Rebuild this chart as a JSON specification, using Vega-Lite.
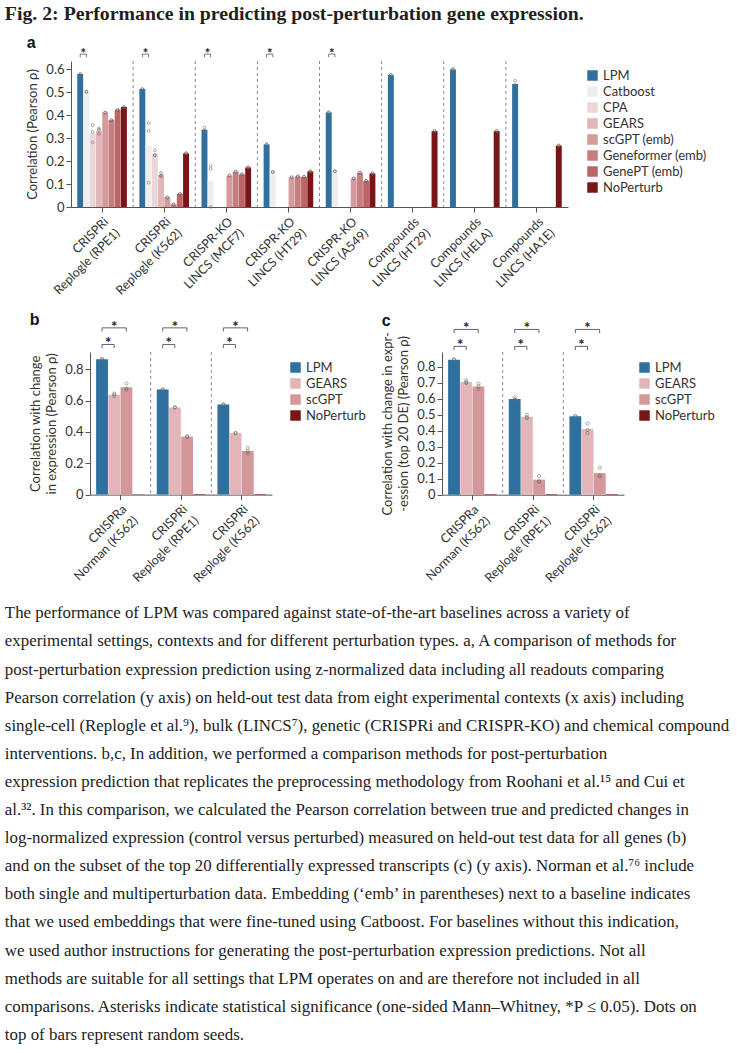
{
  "$schema": "https://vega.github.io/schema/vega-lite/v6.json",
  "background": "white",
  "padding": {"left": 4, "top": 4, "right": 4, "bottom": 4},
  "title": {"text": "Fig. 2: Performance in predicting post-perturbation gene expression.", "anchor": "start", "font": "Liberation Serif", "fontSize": 19.8, "fontWeight": "bold", "color": "#1f1f1f", "offset": 11},
  "config": {
    "font": "Lato",
    "view": {"stroke": null},
    "axis": {"domainColor": "#555", "tickColor": "#555", "labelColor": "#333", "titleColor": "#333", "labelFontSize": 13, "titleFontSize": 13, "titleFontWeight": "normal", "grid": false, "tickSize": 5, "labelFont": "Lato", "titleFont": "Lato", "titleLineHeight": 16},
    "legend": {"labelFontSize": 13, "labelFont": "Lato", "symbolType": "square", "symbolSize": 110, "symbolStrokeWidth": 0, "rowPadding": 2, "labelColor": "#333"}
  },
  "datasets": {
    "a_bars": [
      {"c": "CRISPRi|Replogle (RPE1)", "m": "LPM", "v": 0.578},
      {"c": "CRISPRi|Replogle (RPE1)", "m": "Catboost", "v": 0.501},
      {"c": "CRISPRi|Replogle (RPE1)", "m": "CPA", "v": 0.321},
      {"c": "CRISPRi|Replogle (RPE1)", "m": "GEARS", "v": 0.332},
      {"c": "CRISPRi|Replogle (RPE1)", "m": "scGPT (emb)", "v": 0.411},
      {"c": "CRISPRi|Replogle (RPE1)", "m": "Geneformer (emb)", "v": 0.378},
      {"c": "CRISPRi|Replogle (RPE1)", "m": "GenePT (emb)", "v": 0.423},
      {"c": "CRISPRi|Replogle (RPE1)", "m": "NoPerturb", "v": 0.435},
      {"c": "CRISPRi|Replogle (K562)", "m": "LPM", "v": 0.513},
      {"c": "CRISPRi|Replogle (K562)", "m": "Catboost", "v": 0.267},
      {"c": "CRISPRi|Replogle (K562)", "m": "CPA", "v": 0.232},
      {"c": "CRISPRi|Replogle (K562)", "m": "GEARS", "v": 0.14},
      {"c": "CRISPRi|Replogle (K562)", "m": "scGPT (emb)", "v": 0.042},
      {"c": "CRISPRi|Replogle (K562)", "m": "Geneformer (emb)", "v": 0.011},
      {"c": "CRISPRi|Replogle (K562)", "m": "GenePT (emb)", "v": 0.057},
      {"c": "CRISPRi|Replogle (K562)", "m": "NoPerturb", "v": 0.233},
      {"c": "CRISPR-KO|LINCS (MCF7)", "m": "LPM", "v": 0.336},
      {"c": "CRISPR-KO|LINCS (MCF7)", "m": "Catboost", "v": 0.114},
      {"c": "CRISPR-KO|LINCS (MCF7)", "m": "scGPT (emb)", "v": 0.136},
      {"c": "CRISPR-KO|LINCS (MCF7)", "m": "Geneformer (emb)", "v": 0.153},
      {"c": "CRISPR-KO|LINCS (MCF7)", "m": "GenePT (emb)", "v": 0.142},
      {"c": "CRISPR-KO|LINCS (MCF7)", "m": "NoPerturb", "v": 0.172},
      {"c": "CRISPR-KO|LINCS (HT29)", "m": "LPM", "v": 0.272},
      {"c": "CRISPR-KO|LINCS (HT29)", "m": "Catboost", "v": 0.152},
      {"c": "CRISPR-KO|LINCS (HT29)", "m": "scGPT (emb)", "v": 0.129},
      {"c": "CRISPR-KO|LINCS (HT29)", "m": "Geneformer (emb)", "v": 0.133},
      {"c": "CRISPR-KO|LINCS (HT29)", "m": "GenePT (emb)", "v": 0.131},
      {"c": "CRISPR-KO|LINCS (HT29)", "m": "NoPerturb", "v": 0.155},
      {"c": "CRISPR-KO|LINCS (A549)", "m": "LPM", "v": 0.411},
      {"c": "CRISPR-KO|LINCS (A549)", "m": "Catboost", "v": 0.155},
      {"c": "CRISPR-KO|LINCS (A549)", "m": "scGPT (emb)", "v": 0.124},
      {"c": "CRISPR-KO|LINCS (A549)", "m": "Geneformer (emb)", "v": 0.149},
      {"c": "CRISPR-KO|LINCS (A549)", "m": "GenePT (emb)", "v": 0.113},
      {"c": "CRISPR-KO|LINCS (A549)", "m": "NoPerturb", "v": 0.146},
      {"c": "Compounds|LINCS (HT29)", "m": "LPM", "v": 0.574},
      {"c": "Compounds|LINCS (HT29)", "m": "NoPerturb", "v": 0.33},
      {"c": "Compounds|LINCS (HELA)", "m": "LPM", "v": 0.598},
      {"c": "Compounds|LINCS (HELA)", "m": "NoPerturb", "v": 0.33},
      {"c": "Compounds|LINCS (HA1E)", "m": "LPM", "v": 0.535},
      {"c": "Compounds|LINCS (HA1E)", "m": "NoPerturb", "v": 0.267}
    ],
    "a_seeds": [
      {"c": "CRISPRi|Replogle (RPE1)", "m": "LPM", "v": 0.577},
      {"c": "CRISPRi|Replogle (RPE1)", "m": "LPM", "v": 0.579},
      {"c": "CRISPRi|Replogle (RPE1)", "m": "Catboost", "v": 0.501},
      {"c": "CRISPRi|Replogle (RPE1)", "m": "Catboost", "v": 0.502},
      {"c": "CRISPRi|Replogle (RPE1)", "m": "CPA", "v": 0.356},
      {"c": "CRISPRi|Replogle (RPE1)", "m": "CPA", "v": 0.327},
      {"c": "CRISPRi|Replogle (RPE1)", "m": "CPA", "v": 0.281},
      {"c": "CRISPRi|Replogle (RPE1)", "m": "GEARS", "v": 0.342},
      {"c": "CRISPRi|Replogle (RPE1)", "m": "GEARS", "v": 0.318},
      {"c": "CRISPRi|Replogle (RPE1)", "m": "GEARS", "v": 0.336},
      {"c": "CRISPRi|Replogle (RPE1)", "m": "scGPT (emb)", "v": 0.411},
      {"c": "CRISPRi|Replogle (RPE1)", "m": "scGPT (emb)", "v": 0.41},
      {"c": "CRISPRi|Replogle (RPE1)", "m": "Geneformer (emb)", "v": 0.378},
      {"c": "CRISPRi|Replogle (RPE1)", "m": "Geneformer (emb)", "v": 0.377},
      {"c": "CRISPRi|Replogle (RPE1)", "m": "GenePT (emb)", "v": 0.423},
      {"c": "CRISPRi|Replogle (RPE1)", "m": "GenePT (emb)", "v": 0.422},
      {"c": "CRISPRi|Replogle (RPE1)", "m": "NoPerturb", "v": 0.435},
      {"c": "CRISPRi|Replogle (RPE1)", "m": "NoPerturb", "v": 0.434},
      {"c": "CRISPRi|Replogle (K562)", "m": "LPM", "v": 0.513},
      {"c": "CRISPRi|Replogle (K562)", "m": "LPM", "v": 0.512},
      {"c": "CRISPRi|Replogle (K562)", "m": "Catboost", "v": 0.365},
      {"c": "CRISPRi|Replogle (K562)", "m": "Catboost", "v": 0.331},
      {"c": "CRISPRi|Replogle (K562)", "m": "Catboost", "v": 0.106},
      {"c": "CRISPRi|Replogle (K562)", "m": "CPA", "v": 0.247},
      {"c": "CRISPRi|Replogle (K562)", "m": "CPA", "v": 0.226},
      {"c": "CRISPRi|Replogle (K562)", "m": "CPA", "v": 0.224},
      {"c": "CRISPRi|Replogle (K562)", "m": "GEARS", "v": 0.148},
      {"c": "CRISPRi|Replogle (K562)", "m": "GEARS", "v": 0.134},
      {"c": "CRISPRi|Replogle (K562)", "m": "GEARS", "v": 0.137},
      {"c": "CRISPRi|Replogle (K562)", "m": "scGPT (emb)", "v": 0.042},
      {"c": "CRISPRi|Replogle (K562)", "m": "scGPT (emb)", "v": 0.041},
      {"c": "CRISPRi|Replogle (K562)", "m": "Geneformer (emb)", "v": 0.011},
      {"c": "CRISPRi|Replogle (K562)", "m": "Geneformer (emb)", "v": 0.012},
      {"c": "CRISPRi|Replogle (K562)", "m": "GenePT (emb)", "v": 0.057},
      {"c": "CRISPRi|Replogle (K562)", "m": "GenePT (emb)", "v": 0.056},
      {"c": "CRISPRi|Replogle (K562)", "m": "NoPerturb", "v": 0.233},
      {"c": "CRISPRi|Replogle (K562)", "m": "NoPerturb", "v": 0.234},
      {"c": "CRISPR-KO|LINCS (MCF7)", "m": "LPM", "v": 0.346},
      {"c": "CRISPR-KO|LINCS (MCF7)", "m": "LPM", "v": 0.33},
      {"c": "CRISPR-KO|LINCS (MCF7)", "m": "LPM", "v": 0.332},
      {"c": "CRISPR-KO|LINCS (MCF7)", "m": "Catboost", "v": 0.178},
      {"c": "CRISPR-KO|LINCS (MCF7)", "m": "Catboost", "v": 0.165},
      {"c": "CRISPR-KO|LINCS (MCF7)", "m": "Catboost", "v": 0.0},
      {"c": "CRISPR-KO|LINCS (MCF7)", "m": "scGPT (emb)", "v": 0.136},
      {"c": "CRISPR-KO|LINCS (MCF7)", "m": "scGPT (emb)", "v": 0.137},
      {"c": "CRISPR-KO|LINCS (MCF7)", "m": "Geneformer (emb)", "v": 0.153},
      {"c": "CRISPR-KO|LINCS (MCF7)", "m": "Geneformer (emb)", "v": 0.154},
      {"c": "CRISPR-KO|LINCS (MCF7)", "m": "GenePT (emb)", "v": 0.142},
      {"c": "CRISPR-KO|LINCS (MCF7)", "m": "GenePT (emb)", "v": 0.143},
      {"c": "CRISPR-KO|LINCS (MCF7)", "m": "NoPerturb", "v": 0.172},
      {"c": "CRISPR-KO|LINCS (MCF7)", "m": "NoPerturb", "v": 0.173},
      {"c": "CRISPR-KO|LINCS (HT29)", "m": "LPM", "v": 0.272},
      {"c": "CRISPR-KO|LINCS (HT29)", "m": "LPM", "v": 0.273},
      {"c": "CRISPR-KO|LINCS (HT29)", "m": "Catboost", "v": 0.152},
      {"c": "CRISPR-KO|LINCS (HT29)", "m": "Catboost", "v": 0.153},
      {"c": "CRISPR-KO|LINCS (HT29)", "m": "scGPT (emb)", "v": 0.129},
      {"c": "CRISPR-KO|LINCS (HT29)", "m": "scGPT (emb)", "v": 0.13},
      {"c": "CRISPR-KO|LINCS (HT29)", "m": "Geneformer (emb)", "v": 0.133},
      {"c": "CRISPR-KO|LINCS (HT29)", "m": "Geneformer (emb)", "v": 0.134},
      {"c": "CRISPR-KO|LINCS (HT29)", "m": "GenePT (emb)", "v": 0.131},
      {"c": "CRISPR-KO|LINCS (HT29)", "m": "GenePT (emb)", "v": 0.132},
      {"c": "CRISPR-KO|LINCS (HT29)", "m": "NoPerturb", "v": 0.155},
      {"c": "CRISPR-KO|LINCS (HT29)", "m": "NoPerturb", "v": 0.156},
      {"c": "CRISPR-KO|LINCS (A549)", "m": "LPM", "v": 0.411},
      {"c": "CRISPR-KO|LINCS (A549)", "m": "LPM", "v": 0.412},
      {"c": "CRISPR-KO|LINCS (A549)", "m": "Catboost", "v": 0.155},
      {"c": "CRISPR-KO|LINCS (A549)", "m": "Catboost", "v": 0.156},
      {"c": "CRISPR-KO|LINCS (A549)", "m": "scGPT (emb)", "v": 0.124},
      {"c": "CRISPR-KO|LINCS (A549)", "m": "scGPT (emb)", "v": 0.125},
      {"c": "CRISPR-KO|LINCS (A549)", "m": "Geneformer (emb)", "v": 0.149},
      {"c": "CRISPR-KO|LINCS (A549)", "m": "Geneformer (emb)", "v": 0.15},
      {"c": "CRISPR-KO|LINCS (A549)", "m": "GenePT (emb)", "v": 0.113},
      {"c": "CRISPR-KO|LINCS (A549)", "m": "GenePT (emb)", "v": 0.114},
      {"c": "CRISPR-KO|LINCS (A549)", "m": "NoPerturb", "v": 0.146},
      {"c": "CRISPR-KO|LINCS (A549)", "m": "NoPerturb", "v": 0.147},
      {"c": "Compounds|LINCS (HT29)", "m": "LPM", "v": 0.574},
      {"c": "Compounds|LINCS (HT29)", "m": "LPM", "v": 0.575},
      {"c": "Compounds|LINCS (HT29)", "m": "NoPerturb", "v": 0.33},
      {"c": "Compounds|LINCS (HT29)", "m": "NoPerturb", "v": 0.331},
      {"c": "Compounds|LINCS (HELA)", "m": "LPM", "v": 0.598},
      {"c": "Compounds|LINCS (HELA)", "m": "LPM", "v": 0.6},
      {"c": "Compounds|LINCS (HELA)", "m": "NoPerturb", "v": 0.33},
      {"c": "Compounds|LINCS (HELA)", "m": "NoPerturb", "v": 0.331},
      {"c": "Compounds|LINCS (HA1E)", "m": "LPM", "v": 0.549},
      {"c": "Compounds|LINCS (HA1E)", "m": "LPM", "v": 0.53},
      {"c": "Compounds|LINCS (HA1E)", "m": "LPM", "v": 0.527},
      {"c": "Compounds|LINCS (HA1E)", "m": "NoPerturb", "v": 0.267},
      {"c": "Compounds|LINCS (HA1E)", "m": "NoPerturb", "v": 0.268}
    ],
    "a_sig": [
      {"c": "CRISPRi|Replogle (RPE1)", "m": "LPM", "y": 0.665},
      {"c": "CRISPRi|Replogle (K562)", "m": "LPM", "y": 0.665},
      {"c": "CRISPR-KO|LINCS (MCF7)", "m": "LPM", "y": 0.665},
      {"c": "CRISPR-KO|LINCS (HT29)", "m": "LPM", "y": 0.665},
      {"c": "CRISPR-KO|LINCS (A549)", "m": "LPM", "y": 0.665}
    ],
    "b_bars": [
      {"c": "CRISPRa|Norman (K562)", "m": "LPM", "v": 0.864},
      {"c": "CRISPRa|Norman (K562)", "m": "GEARS", "v": 0.637},
      {"c": "CRISPRa|Norman (K562)", "m": "scGPT", "v": 0.685},
      {"c": "CRISPRa|Norman (K562)", "m": "NoPerturb", "v": 0.003},
      {"c": "CRISPRi|Replogle (RPE1)", "m": "LPM", "v": 0.67},
      {"c": "CRISPRi|Replogle (RPE1)", "m": "GEARS", "v": 0.556},
      {"c": "CRISPRi|Replogle (RPE1)", "m": "scGPT", "v": 0.37},
      {"c": "CRISPRi|Replogle (RPE1)", "m": "NoPerturb", "v": 0.003},
      {"c": "CRISPRi|Replogle (K562)", "m": "LPM", "v": 0.575},
      {"c": "CRISPRi|Replogle (K562)", "m": "GEARS", "v": 0.392},
      {"c": "CRISPRi|Replogle (K562)", "m": "scGPT", "v": 0.279},
      {"c": "CRISPRi|Replogle (K562)", "m": "NoPerturb", "v": 0.003}
    ],
    "b_seeds": [
      {"c": "CRISPRa|Norman (K562)", "m": "LPM", "v": 0.866},
      {"c": "CRISPRa|Norman (K562)", "m": "LPM", "v": 0.862},
      {"c": "CRISPRa|Norman (K562)", "m": "GEARS", "v": 0.645},
      {"c": "CRISPRa|Norman (K562)", "m": "GEARS", "v": 0.628},
      {"c": "CRISPRa|Norman (K562)", "m": "GEARS", "v": 0.638},
      {"c": "CRISPRa|Norman (K562)", "m": "scGPT", "v": 0.709},
      {"c": "CRISPRa|Norman (K562)", "m": "scGPT", "v": 0.67},
      {"c": "CRISPRa|Norman (K562)", "m": "scGPT", "v": 0.676},
      {"c": "CRISPRi|Replogle (RPE1)", "m": "LPM", "v": 0.672},
      {"c": "CRISPRi|Replogle (RPE1)", "m": "LPM", "v": 0.669},
      {"c": "CRISPRi|Replogle (RPE1)", "m": "GEARS", "v": 0.558},
      {"c": "CRISPRi|Replogle (RPE1)", "m": "GEARS", "v": 0.555},
      {"c": "CRISPRi|Replogle (RPE1)", "m": "scGPT", "v": 0.372},
      {"c": "CRISPRi|Replogle (RPE1)", "m": "scGPT", "v": 0.368},
      {"c": "CRISPRi|Replogle (K562)", "m": "LPM", "v": 0.577},
      {"c": "CRISPRi|Replogle (K562)", "m": "LPM", "v": 0.573},
      {"c": "CRISPRi|Replogle (K562)", "m": "GEARS", "v": 0.394},
      {"c": "CRISPRi|Replogle (K562)", "m": "GEARS", "v": 0.391},
      {"c": "CRISPRi|Replogle (K562)", "m": "scGPT", "v": 0.298},
      {"c": "CRISPRi|Replogle (K562)", "m": "scGPT", "v": 0.262},
      {"c": "CRISPRi|Replogle (K562)", "m": "scGPT", "v": 0.277}
    ],
    "b_sig": [
      {"c": "CRISPRa|Norman (K562)", "m": "LPM", "br": "short", "y": 0.958},
      {"c": "CRISPRa|Norman (K562)", "m": "LPM", "br": "long", "y": 1.064},
      {"c": "CRISPRi|Replogle (RPE1)", "m": "LPM", "br": "short", "y": 0.958},
      {"c": "CRISPRi|Replogle (RPE1)", "m": "LPM", "br": "long", "y": 1.064},
      {"c": "CRISPRi|Replogle (K562)", "m": "LPM", "br": "short", "y": 0.958},
      {"c": "CRISPRi|Replogle (K562)", "m": "LPM", "br": "long", "y": 1.064}
    ],
    "c_bars": [
      {"c": "CRISPRa|Norman (K562)", "m": "LPM", "v": 0.844},
      {"c": "CRISPRa|Norman (K562)", "m": "GEARS", "v": 0.705},
      {"c": "CRISPRa|Norman (K562)", "m": "scGPT", "v": 0.677},
      {"c": "CRISPRa|Norman (K562)", "m": "NoPerturb", "v": 0.003},
      {"c": "CRISPRi|Replogle (RPE1)", "m": "LPM", "v": 0.598},
      {"c": "CRISPRi|Replogle (RPE1)", "m": "GEARS", "v": 0.487},
      {"c": "CRISPRi|Replogle (RPE1)", "m": "scGPT", "v": 0.094},
      {"c": "CRISPRi|Replogle (RPE1)", "m": "NoPerturb", "v": 0.003},
      {"c": "CRISPRi|Replogle (K562)", "m": "LPM", "v": 0.49},
      {"c": "CRISPRi|Replogle (K562)", "m": "GEARS", "v": 0.41},
      {"c": "CRISPRi|Replogle (K562)", "m": "scGPT", "v": 0.135},
      {"c": "CRISPRi|Replogle (K562)", "m": "NoPerturb", "v": 0.003}
    ],
    "c_seeds": [
      {"c": "CRISPRa|Norman (K562)", "m": "LPM", "v": 0.846},
      {"c": "CRISPRa|Norman (K562)", "m": "LPM", "v": 0.842},
      {"c": "CRISPRa|Norman (K562)", "m": "GEARS", "v": 0.715},
      {"c": "CRISPRa|Norman (K562)", "m": "GEARS", "v": 0.698},
      {"c": "CRISPRa|Norman (K562)", "m": "GEARS", "v": 0.703},
      {"c": "CRISPRa|Norman (K562)", "m": "scGPT", "v": 0.694},
      {"c": "CRISPRa|Norman (K562)", "m": "scGPT", "v": 0.66},
      {"c": "CRISPRa|Norman (K562)", "m": "scGPT", "v": 0.677},
      {"c": "CRISPRi|Replogle (RPE1)", "m": "LPM", "v": 0.608},
      {"c": "CRISPRi|Replogle (RPE1)", "m": "LPM", "v": 0.592},
      {"c": "CRISPRi|Replogle (RPE1)", "m": "LPM", "v": 0.595},
      {"c": "CRISPRi|Replogle (RPE1)", "m": "GEARS", "v": 0.5},
      {"c": "CRISPRi|Replogle (RPE1)", "m": "GEARS", "v": 0.479},
      {"c": "CRISPRi|Replogle (RPE1)", "m": "GEARS", "v": 0.483},
      {"c": "CRISPRi|Replogle (RPE1)", "m": "scGPT", "v": 0.117},
      {"c": "CRISPRi|Replogle (RPE1)", "m": "scGPT", "v": 0.085},
      {"c": "CRISPRi|Replogle (RPE1)", "m": "scGPT", "v": 0.08},
      {"c": "CRISPRi|Replogle (K562)", "m": "LPM", "v": 0.492},
      {"c": "CRISPRi|Replogle (K562)", "m": "LPM", "v": 0.489},
      {"c": "CRISPRi|Replogle (K562)", "m": "GEARS", "v": 0.444},
      {"c": "CRISPRi|Replogle (K562)", "m": "GEARS", "v": 0.405},
      {"c": "CRISPRi|Replogle (K562)", "m": "GEARS", "v": 0.385},
      {"c": "CRISPRi|Replogle (K562)", "m": "scGPT", "v": 0.169},
      {"c": "CRISPRi|Replogle (K562)", "m": "scGPT", "v": 0.119},
      {"c": "CRISPRi|Replogle (K562)", "m": "scGPT", "v": 0.115}
    ],
    "c_sig": [
      {"c": "CRISPRa|Norman (K562)", "m": "LPM", "br": "short", "y": 0.927},
      {"c": "CRISPRa|Norman (K562)", "m": "LPM", "br": "long", "y": 1.033},
      {"c": "CRISPRi|Replogle (RPE1)", "m": "LPM", "br": "short", "y": 0.927},
      {"c": "CRISPRi|Replogle (RPE1)", "m": "LPM", "br": "long", "y": 1.033},
      {"c": "CRISPRi|Replogle (K562)", "m": "LPM", "br": "short", "y": 0.927},
      {"c": "CRISPRi|Replogle (K562)", "m": "LPM", "br": "long", "y": 1.033}
    ]
  },
  "resolve": {"scale": {"color": "independent", "x": "independent", "xOffset": "independent", "y": "independent"}, "legend": {"color": "independent"}},
  "spacing": 14,
  "vconcat": [
    {
      "width": 478,
      "height": 146,
      "title": {"text": "a", "anchor": "start", "font": "Liberation Sans", "fontSize": 16, "fontWeight": "bold", "color": "#111", "offset": -3},
      "layer": [
        {
          "data": {"name": "a_bars"},
          "mark": {"type": "bar"},
          "encoding": {
            "x": {"field": "c", "type": "nominal", "sort": null, "scale": {"type": "band", "paddingInner": 0, "paddingOuter": 0, "range": [-19, 478], "domain": ["CRISPRi|Replogle (RPE1)", "CRISPRi|Replogle (K562)", "CRISPR-KO|LINCS (MCF7)", "CRISPR-KO|LINCS (HT29)", "CRISPR-KO|LINCS (A549)", "Compounds|LINCS (HT29)", "Compounds|LINCS (HELA)", "Compounds|LINCS (HA1E)"]}, "axis": {"title": null, "labelAngle": -45, "labelAlign": "right", "labelBaseline": "top", "labelExpr": "split(datum.label, '|')", "labelFontSize": 12.5, "labelPadding": 3, "labelLineHeight": 16}},
            "xOffset": {"field": "m", "type": "nominal", "scale": {"domain": ["LPM", "Catboost", "CPA", "GEARS", "scGPT (emb)", "Geneformer (emb)", "GenePT (emb)", "NoPerturb"], "paddingOuter": 1, "paddingInner": 0.05}},
            "y": {"field": "v", "type": "quantitative", "scale": {"domain": [0, 0.635], "nice": false}, "axis": {"title": "Correlation (Pearson ρ)", "values": [0, 0.1, 0.2, 0.3, 0.4, 0.5, 0.6], "tickCount": 20, "labelExpr": "datum.value == 0 ? '0' : format(datum.value, '.1f')", "labelOverlap": false, "labelBound": false, "titlePadding": 6, "offset": 19}},
            "color": {"field": "m", "type": "nominal", "scale": {"domain": ["LPM", "Catboost", "CPA", "GEARS", "scGPT (emb)", "Geneformer (emb)", "GenePT (emb)", "NoPerturb"], "range": ["#30709e", "#eeeeef", "#ecd6d8", "#e1b6b8", "#d49a9c", "#c77e80", "#bc6467", "#7a1517"]}, "legend": {"title": null, "orient": "none", "legendX": 496, "legendY": 8}}
          }
        },
        {
          "data": {"name": "a_seeds"},
          "mark": {"type": "point", "size": 8, "filled": false, "stroke": "#6b6b6b", "strokeWidth": 0.7, "opacity": 0.8},
          "encoding": {
            "x": {"field": "c", "type": "nominal", "sort": null},
            "xOffset": {"field": "m", "type": "nominal"},
            "y": {"field": "v", "type": "quantitative"}
          }
        },
        {
          "data": {"name": "a_bars"},
          "transform": [{"aggregate": [{"op": "count", "as": "n"}], "groupby": ["c"]}, {"filter": "datum.c != 'CRISPRi|Replogle (RPE1)'"}],
          "mark": {"type": "rule", "strokeDash": [3, 3], "color": "#8a8a8a", "strokeWidth": 1},
          "encoding": {"x": {"field": "c", "type": "nominal", "sort": null, "bandPosition": 0}}
        },
        {
          "data": {"name": "a_sig"},
          "mark": {"type": "point", "shape": "M0,1L0,0L2,0L2,1", "size": 38.4, "filled": false, "stroke": "#555", "strokeWidth": 0.8, "opacity": 1},
          "encoding": {
            "x": {"field": "c", "type": "nominal", "sort": null},
            "xOffset": {"field": "m", "type": "nominal"},
            "y": {"field": "y", "type": "quantitative"}
          }
        },
        {
          "data": {"name": "a_sig"},
          "mark": {"type": "text", "text": "*", "dx": 3.1, "dy": 4, "baseline": "alphabetic", "fontSize": 13, "fontWeight": "bold", "color": "#222"},
          "encoding": {
            "x": {"field": "c", "type": "nominal", "sort": null},
            "xOffset": {"field": "m", "type": "nominal"},
            "y": {"field": "y", "type": "quantitative"}
          }
        }
      ]
    },
    {
      "spacing": 15,
      "resolve": {"scale": {"color": "independent", "x": "independent", "xOffset": "independent", "y": "independent"}, "legend": {"color": "independent"}},
      "title": {
        "text": [
          "The performance of LPM was compared against state-of-the-art baselines across a variety of",
          "experimental settings, contexts and for different perturbation types. a, A comparison of methods for",
          "post-perturbation expression prediction using z-normalized data including all readouts comparing",
          "Pearson correlation (y axis) on held-out test data from eight experimental contexts (x axis) including",
          "single-cell (Replogle et al.⁹), bulk (LINCS⁷), genetic (CRISPRi and CRISPR-KO) and chemical compound",
          "interventions. b,c, In addition, we performed a comparison methods for post-perturbation",
          "expression prediction that replicates the preprocessing methodology from Roohani et al.¹⁵ and Cui et",
          "al.³². In this comparison, we calculated the Pearson correlation between true and predicted changes in",
          "log-normalized expression (control versus perturbed) measured on held-out test data for all genes (b)",
          "and on the subset of the top 20 differentially expressed transcripts (c) (y axis). Norman et al.⁷⁶ include",
          "both single and multiperturbation data. Embedding (‘emb’ in parentheses) next to a baseline indicates",
          "that we used embeddings that were fine-tuned using Catboost. For baselines without this indication,",
          "we used author instructions for generating the post-perturbation expression predictions. Not all",
          "methods are suitable for all settings that LPM operates on and are therefore not included in all",
          "comparisons. Asterisks indicate statistical significance (one-sided Mann–Whitney, *P ≤ 0.05). Dots on",
          "top of bars represent random seeds."
        ],
        "orient": "bottom", "anchor": "start", "font": "Liberation Serif", "fontSize": 16.9, "fontWeight": "normal", "color": "#222", "lineHeight": 28.1, "offset": 21, "dx": -25
      },
      "hconcat": [
        {
          "width": 182,
          "height": 142.6,
          "title": {"text": "b", "anchor": "start", "font": "Liberation Sans", "fontSize": 16, "fontWeight": "bold", "color": "#111", "offset": -8},
          "layer": [
            {
              "data": {"name": "b_bars"},
              "mark": {"type": "bar"},
              "encoding": {
                "x": {"field": "c", "type": "nominal", "sort": null, "scale": {"type": "band", "paddingInner": 0, "paddingOuter": 0, "domain": ["CRISPRa|Norman (K562)", "CRISPRi|Replogle (RPE1)", "CRISPRi|Replogle (K562)"]}, "axis": {"title": null, "labelAngle": -45, "labelAlign": "right", "labelBaseline": "top", "labelExpr": "split(datum.label, '|')", "labelFontSize": 12.5, "labelPadding": 3, "labelLineHeight": 16}},
                "xOffset": {"field": "m", "type": "nominal", "scale": {"domain": ["LPM", "GEARS", "scGPT", "NoPerturb"], "paddingOuter": 0.5, "paddingInner": 0.03}},
                "y": {"field": "v", "type": "quantitative", "scale": {"domain": [0, 0.91], "nice": false}, "axis": {"title": ["Correlation with change", "in expression (Pearson ρ)"], "values": [0, 0.2, 0.4, 0.6, 0.8], "tickCount": 20, "labelExpr": "datum.value == 0 ? '0' : format(datum.value, '.1f')", "labelOverlap": false, "labelBound": false, "titlePadding": 6}},
                "color": {"field": "m", "type": "nominal", "scale": {"domain": ["LPM", "GEARS", "scGPT", "NoPerturb"], "range": ["#30709e", "#e2b6b8", "#d4989a", "#7a1517"]}, "legend": {"title": null, "orient": "none", "legendX": 199, "legendY": 9}}
              }
            },
            {
              "data": {"name": "b_seeds"},
              "mark": {"type": "point", "size": 10, "filled": false, "stroke": "#6b6b6b", "strokeWidth": 0.7, "opacity": 0.8},
              "encoding": {
                "x": {"field": "c", "type": "nominal", "sort": null},
                "xOffset": {"field": "m", "type": "nominal"},
                "y": {"field": "v", "type": "quantitative"}
              }
            },
            {
              "data": {"name": "b_bars"},
              "transform": [{"aggregate": [{"op": "count", "as": "n"}], "groupby": ["c"]}, {"filter": "datum.c != 'CRISPRa|Norman (K562)'"}],
              "mark": {"type": "rule", "strokeDash": [3, 3], "color": "#8a8a8a", "strokeWidth": 1},
              "encoding": {"x": {"field": "c", "type": "nominal", "sort": null, "bandPosition": 0}}
            },
            {
              "data": {"name": "b_sig"},
              "transform": [{"filter": "datum.br == 'short'"}],
              "mark": {"type": "point", "shape": "M0,0.6L0,0L2,0L2,0.6", "size": 147, "filled": false, "stroke": "#555", "strokeWidth": 0.9, "opacity": 1},
              "encoding": {
                "x": {"field": "c", "type": "nominal", "sort": null},
                "xOffset": {"field": "m", "type": "nominal"},
                "y": {"field": "y", "type": "quantitative"}
              }
            },
            {
              "data": {"name": "b_sig"},
              "transform": [{"filter": "datum.br == 'long'"}],
              "mark": {"type": "point", "shape": "M0,0.6L0,0L4,0L4,0.6", "size": 147, "filled": false, "stroke": "#555", "strokeWidth": 0.9, "opacity": 1},
              "encoding": {
                "x": {"field": "c", "type": "nominal", "sort": null},
                "xOffset": {"field": "m", "type": "nominal"},
                "y": {"field": "y", "type": "quantitative"}
              }
            },
            {
              "data": {"name": "b_sig"},
              "transform": [{"filter": "datum.br == 'short'"}],
              "mark": {"type": "text", "text": "*", "dx": 6.07, "dy": 4, "baseline": "alphabetic", "fontSize": 15, "fontWeight": "bold", "color": "#222"},
              "encoding": {
                "x": {"field": "c", "type": "nominal", "sort": null},
                "xOffset": {"field": "m", "type": "nominal"},
                "y": {"field": "y", "type": "quantitative"}
              }
            },
            {
              "data": {"name": "b_sig"},
              "transform": [{"filter": "datum.br == 'long'"}],
              "mark": {"type": "text", "text": "*", "dx": 12.14, "dy": 4, "baseline": "alphabetic", "fontSize": 15, "fontWeight": "bold", "color": "#222"},
              "encoding": {
                "x": {"field": "c", "type": "nominal", "sort": null},
                "xOffset": {"field": "m", "type": "nominal"},
                "y": {"field": "y", "type": "quantitative"}
              }
            }
          ]
        },
        {
          "width": 182,
          "height": 142.7,
          "title": {"text": "c", "anchor": "start", "font": "Liberation Sans", "fontSize": 16, "fontWeight": "bold", "color": "#111", "offset": -8},
          "layer": [
            {
              "data": {"name": "c_bars"},
              "mark": {"type": "bar"},
              "encoding": {
                "x": {"field": "c", "type": "nominal", "sort": null, "scale": {"type": "band", "paddingInner": 0, "paddingOuter": 0, "domain": ["CRISPRa|Norman (K562)", "CRISPRi|Replogle (RPE1)", "CRISPRi|Replogle (K562)"]}, "axis": {"title": null, "labelAngle": -45, "labelAlign": "right", "labelBaseline": "top", "labelExpr": "split(datum.label, '|')", "labelFontSize": 12.5, "labelPadding": 3, "labelLineHeight": 16}},
                "xOffset": {"field": "m", "type": "nominal", "scale": {"domain": ["LPM", "GEARS", "scGPT", "NoPerturb"], "paddingOuter": 0.5, "paddingInner": 0.03}},
                "y": {"field": "v", "type": "quantitative", "scale": {"domain": [0, 0.892], "nice": false}, "axis": {"title": ["Correlation with change in expr-", "-ession (top 20 DE) (Pearson ρ)"], "values": [0, 0.1, 0.2, 0.3, 0.4, 0.5, 0.6, 0.7, 0.8], "tickCount": 20, "labelExpr": "datum.value == 0 ? '0' : format(datum.value, '.1f')", "labelOverlap": false, "labelBound": false, "titlePadding": 6}},
                "color": {"field": "m", "type": "nominal", "scale": {"domain": ["LPM", "GEARS", "scGPT", "NoPerturb"], "range": ["#30709e", "#e2b6b8", "#d4989a", "#7a1517"]}, "legend": {"title": null, "orient": "none", "legendX": 196, "legendY": 9}}
              }
            },
            {
              "data": {"name": "c_seeds"},
              "mark": {"type": "point", "size": 10, "filled": false, "stroke": "#6b6b6b", "strokeWidth": 0.7, "opacity": 0.8},
              "encoding": {
                "x": {"field": "c", "type": "nominal", "sort": null},
                "xOffset": {"field": "m", "type": "nominal"},
                "y": {"field": "v", "type": "quantitative"}
              }
            },
            {
              "data": {"name": "c_bars"},
              "transform": [{"aggregate": [{"op": "count", "as": "n"}], "groupby": ["c"]}, {"filter": "datum.c != 'CRISPRa|Norman (K562)'"}],
              "mark": {"type": "rule", "strokeDash": [3, 3], "color": "#8a8a8a", "strokeWidth": 1},
              "encoding": {"x": {"field": "c", "type": "nominal", "sort": null, "bandPosition": 0}}
            },
            {
              "data": {"name": "c_sig"},
              "transform": [{"filter": "datum.br == 'short'"}],
              "mark": {"type": "point", "shape": "M0,0.6L0,0L2,0L2,0.6", "size": 147, "filled": false, "stroke": "#555", "strokeWidth": 0.9, "opacity": 1},
              "encoding": {
                "x": {"field": "c", "type": "nominal", "sort": null},
                "xOffset": {"field": "m", "type": "nominal"},
                "y": {"field": "y", "type": "quantitative"}
              }
            },
            {
              "data": {"name": "c_sig"},
              "transform": [{"filter": "datum.br == 'long'"}],
              "mark": {"type": "point", "shape": "M0,0.6L0,0L4,0L4,0.6", "size": 147, "filled": false, "stroke": "#555", "strokeWidth": 0.9, "opacity": 1},
              "encoding": {
                "x": {"field": "c", "type": "nominal", "sort": null},
                "xOffset": {"field": "m", "type": "nominal"},
                "y": {"field": "y", "type": "quantitative"}
              }
            },
            {
              "data": {"name": "c_sig"},
              "transform": [{"filter": "datum.br == 'short'"}],
              "mark": {"type": "text", "text": "*", "dx": 6.07, "dy": 4, "baseline": "alphabetic", "fontSize": 15, "fontWeight": "bold", "color": "#222"},
              "encoding": {
                "x": {"field": "c", "type": "nominal", "sort": null},
                "xOffset": {"field": "m", "type": "nominal"},
                "y": {"field": "y", "type": "quantitative"}
              }
            },
            {
              "data": {"name": "c_sig"},
              "transform": [{"filter": "datum.br == 'long'"}],
              "mark": {"type": "text", "text": "*", "dx": 12.14, "dy": 4, "baseline": "alphabetic", "fontSize": 15, "fontWeight": "bold", "color": "#222"},
              "encoding": {
                "x": {"field": "c", "type": "nominal", "sort": null},
                "xOffset": {"field": "m", "type": "nominal"},
                "y": {"field": "y", "type": "quantitative"}
              }
            }
          ]
        }
      ]
    }
  ]
}
